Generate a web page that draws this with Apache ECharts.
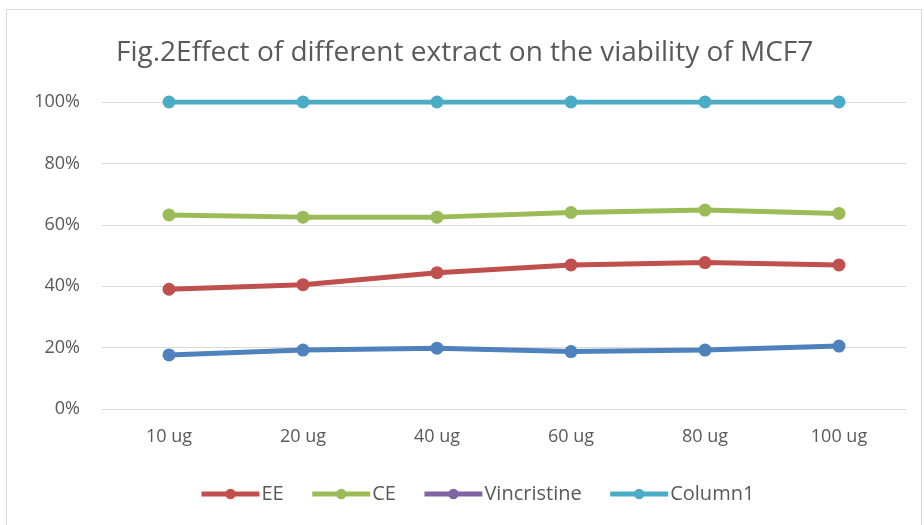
<!DOCTYPE html>
<html>
<head>
<meta charset="utf-8">
<script src="https://cdn.jsdelivr.net/npm/echarts@6/dist/echarts.min.js"></script>
<style>
  html, body { margin: 0; padding: 0; background: #fff; }
  #frame { position: absolute; left: 6px; top: 9px; width: 916px; height: 520px; border: 1px solid #d9d9d9; box-sizing: border-box; }
  #chart { position: absolute; left: 0; top: 0; width: 924px; height: 525px; }
</style>
</head>
<body>
<div id="frame"></div>
<div id="chart"></div>
<script>
// doses on the x axis
const doses = ['10 ug', '20 ug', '40 ug', '60 ug', '80 ug', '100 ug'];
// viability, in %
const control = [17.6, 19.2, 19.8, 18.7, 19.2, 20.5]; // blue line, no legend entry
const ee = [39.0, 40.5, 44.4, 46.9, 47.7, 46.9];
const ce = [63.2, 62.5, 62.5, 64.0, 64.8, 63.7];
const vincristine = [null, null, null, null, null, null];
const column1 = [100, 100, 100, 100, 100, 100];
const legendNames = ['EE', 'CE', 'Vincristine', 'Column1'];

const FONT = 'Open Sans';
const TXT = '#595959';

const myChart = echarts.init(document.getElementById('chart'));

const lineSeries = (name, data, color) => ({
  name: name,
  type: 'line',
  data: data,
  symbol: 'circle',
  symbolSize: 13,
  color: color,
  lineStyle: { width: 5, color: color },
  itemStyle: { color: color },
  emphasis: { disabled: true },
  animation: false
});

const option = {
  title: {
    text: 'Fig.2Effect of different extract on the viability of MCF7',
    left: 111,
    top: 34,
    textStyle: { fontFamily: FONT, fontSize: 28, fontWeight: 'normal', color: TXT }
  },
  grid: { left: 102, right: 18, top: 102, bottom: 116 },
  legend: {
    data: legendNames,
    top: 479,
    left: 194,
    itemWidth: 58,
    itemHeight: 13,
    itemGap: 26,
    lineStyle: { width: 5 },
    textStyle: { fontFamily: FONT, fontSize: 20, color: TXT, padding: [0, 0, 0, -3] }
  },
  xAxis: {
    type: 'category',
    data: doses,
    axisLine: { lineStyle: { color: '#d9d9d9' } },
    axisTick: { show: false },
    axisLabel: { fontFamily: FONT, fontSize: 18, color: TXT, margin: 19 }
  },
  yAxis: {
    type: 'value',
    min: 0,
    max: 100,
    interval: 20,
    axisLine: { show: false },
    axisTick: { show: false },
    axisLabel: { formatter: '{value}%', fontFamily: FONT, fontSize: 18, color: TXT, margin: 22 },
    splitLine: { lineStyle: { color: '#d9d9d9', width: 1 } }
  },
  series: [
    lineSeries('Control', control, '#4F81BD'),
    lineSeries('EE', ee, '#C0504D'),
    lineSeries('CE', ce, '#9BBB59'),
    lineSeries('Vincristine', vincristine, '#8064A2'),
    lineSeries('Column1', column1, '#4BACC6')
  ]
};
myChart.setOption(option);
</script>
</body>
</html>
